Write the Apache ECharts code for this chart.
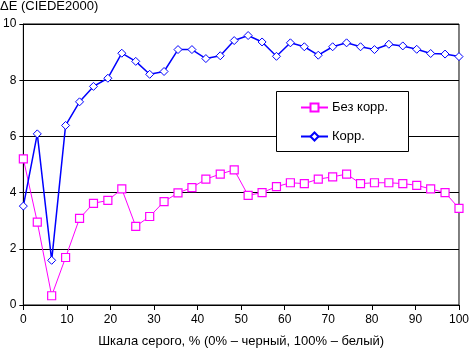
<!DOCTYPE html>
<html>
<head>
<meta charset="utf-8">
<script src="https://cdn.jsdelivr.net/npm/echarts@6/dist/echarts.min.js"></script>
<style>
html,body{margin:0;padding:0;background:#fff;}
#chart{width:472px;height:353px;}
</style>
</head>
<body>
<div id="chart"></div>
<script>
// уровни серого, %
var grayLevels = [0, 3.2, 6.5, 9.7, 12.9, 16.1, 19.4, 22.6, 25.8, 29, 32.3, 35.5, 38.7, 41.9, 45.2, 48.4,
    51.6, 54.8, 58.1, 61.3, 64.5, 67.7, 71, 74.2, 77.4, 80.6, 83.9, 87.1, 90.3, 93.5, 96.8, 100];
// без коррекции
var bezKorr = [5.2, 2.95, 0.33, 1.69, 3.08, 3.62, 3.72, 4.13, 2.8, 3.15, 3.68, 3.99, 4.18, 4.48, 4.66, 4.81,
    3.9, 4.0, 4.21, 4.35, 4.32, 4.48, 4.56, 4.66, 4.32, 4.35, 4.35, 4.32, 4.26, 4.13, 4.0, 3.44];
// с коррекцией
var korr = [3.52, 6.09, 1.59, 6.39, 7.23, 7.78, 8.07, 8.96, 8.67, 8.21, 8.31, 9.09, 9.09, 8.77, 8.87, 9.41,
    9.59, 9.36, 8.85, 9.33, 9.19, 8.89, 9.19, 9.33, 9.19, 9.09, 9.28, 9.22, 9.1, 8.95, 8.93, 8.84];
var seriesNames = ['Без корр.', 'Корр.'];

var FONT = 'Liberation Sans';

function pairs(ys) {
    var out = [];
    for (var i = 0; i < ys.length; i++) {
        out.push([grayLevels[i], ys[i]]);
    }
    return out;
}

var chart = echarts.init(document.getElementById('chart'), null, {renderer: 'canvas'});
chart.setOption({
    animation: false,
    backgroundColor: '#fff',
    textStyle: {fontFamily: FONT, color: '#000'},
    grid: {
        left: 23, right: 10, top: 24, bottom: 43,
        show: true, borderColor: '#000', borderWidth: 1
    },
    graphic: [
        {
            type: 'text', left: 0, top: 0,
            style: {text: 'ΔE (CIEDE2000)', font: '13px "Liberation Sans"', fill: '#000'}
        },
        {
            type: 'rect', left: 276, top: 91, z: 10,
            shape: {width: 132, height: 60},
            style: {fill: '#fff', stroke: '#000', lineWidth: 1}
        }
    ],
    legend: {
        orient: 'vertical',
        left: 300, top: 101,
        padding: 0,
        itemWidth: 27, itemHeight: 10, itemGap: 16,
        z: 11,
        textStyle: {fontSize: 13, color: '#000', fontFamily: FONT, padding: [0, 0, 0, -1]},
        data: seriesNames
    },
    xAxis: {
        type: 'value', min: 0, max: 100, interval: 10,
        name: 'Шкала серого, % (0% – черный, 100% – белый)',
        nameLocation: 'middle', nameGap: 30,
        nameTextStyle: {fontSize: 13, color: '#000', fontFamily: FONT},
        axisLine: {lineStyle: {color: '#000', width: 1}},
        axisTick: {show: true, length: 5, lineStyle: {color: '#000'}},
        axisLabel: {fontSize: 12, color: '#000', margin: 9, fontFamily: FONT},
        splitLine: {show: false}
    },
    yAxis: {
        type: 'value', min: 0, max: 10, interval: 2,
        axisLine: {show: true, lineStyle: {color: '#000', width: 1}},
        axisTick: {show: true, length: 4, lineStyle: {color: '#000'}},
        axisLabel: {fontSize: 12, color: '#000', margin: 7, fontFamily: FONT},
        splitLine: {show: true, lineStyle: {color: '#000', width: 1}}
    },
    series: [
        {
            name: seriesNames[0],
            type: 'line',
            data: pairs(bezKorr),
            symbol: 'rect', symbolSize: 8,
            color: '#ff00ff',
            lineStyle: {color: '#ff00ff', width: 1},
            itemStyle: {color: '#fff', borderColor: '#ff00ff', borderWidth: 1.2}
        },
        {
            name: seriesNames[1],
            type: 'line',
            data: pairs(korr),
            symbol: 'diamond', symbolSize: 8,
            color: '#0000ff',
            lineStyle: {color: '#0000ff', width: 1.5},
            itemStyle: {color: '#fff', borderColor: '#0000ff', borderWidth: 1}
        }
    ]
});
</script>
</body>
</html>
